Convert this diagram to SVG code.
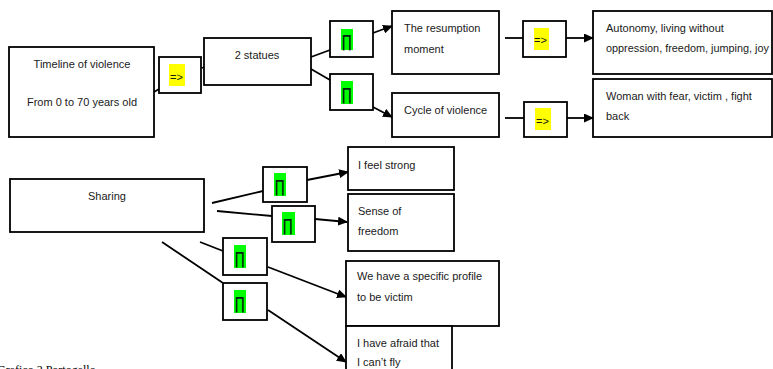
<svg xmlns="http://www.w3.org/2000/svg" width="773" height="369" viewBox="0 0 773 369">
<style>
.box{fill:#fff;stroke:#000;stroke-width:1.8}
.t{font-family:"Liberation Sans",Arial,sans-serif;font-size:11px;fill:#1a1a1a}
.c{text-anchor:middle}
.yel{fill:#ffff00}
.grn{fill:#00ff00}
.sym{font-family:"DejaVu Sans",sans-serif;font-size:17px;fill:#021}
.ln{stroke:#000;stroke-width:1.8;fill:none}
.ar{marker-end:url(#ah)}
.cap{font-family:"Liberation Serif","Times New Roman",serif;font-size:12px;fill:#000}
</style>
<defs>
<marker id="ah" markerUnits="userSpaceOnUse" markerWidth="10" markerHeight="9" refX="9" refY="4.5" orient="auto">
<path d="M0,0 L10,4.5 L0,9 z" fill="#000"/>
</marker>
</defs>
<rect width="773" height="369" fill="#fff"/>

<g id="connectors">
<line class="ln" x1="154" y1="92" x2="159" y2="89"/>
<line class="ln" x1="202" y1="68" x2="217" y2="62"/>
<line class="ln" x1="311" y1="57" x2="330" y2="50"/>
<line class="ln" x1="311" y1="69" x2="330" y2="80"/>
<line class="ln ar" x1="373" y1="33" x2="392" y2="26"/>
<line class="ln ar" x1="373" y1="107" x2="392" y2="117"/>
<line class="ln" x1="505" y1="38" x2="523" y2="38"/>
<line class="ln ar" x1="566" y1="38" x2="593" y2="38"/>
<line class="ln" x1="505" y1="118" x2="524" y2="118"/>
<line class="ln ar" x1="567" y1="118" x2="593" y2="118"/>
<line class="ln" x1="212" y1="203" x2="263" y2="191"/>
<line class="ln" x1="217" y1="211" x2="272" y2="216"/>
<line class="ln" x1="200" y1="242" x2="223" y2="251"/>
<line class="ln" x1="162" y1="242" x2="223" y2="283"/>
<line class="ln ar" x1="307" y1="180" x2="348" y2="172"/>
<line class="ln ar" x1="315" y1="219" x2="347" y2="222"/>
<line class="ln ar" x1="268" y1="267" x2="346" y2="297"/>
<line class="ln ar" x1="268" y1="310" x2="346" y2="362"/>
</g>

<g id="timeline">
<rect class="box" x="9" y="47" width="145" height="90"/>
<text class="t c" x="82" y="68">Timeline of violence</text>
<text class="t c" x="82" y="106">From 0 to 70 years old</text>
</g>

<g id="arrow1">
<rect class="box" x="159" y="57" width="42" height="36"/>
<rect class="yel" x="169" y="64" width="16" height="22"/>
<text class="t" x="170" y="81">=&gt;</text>
</g>

<g id="statues">
<rect class="box" x="204" y="38" width="107" height="47"/>
<text class="t c" x="257" y="59">2 statues</text>
</g>

<g id="sym1">
<rect class="box" x="330" y="21" width="43" height="36"/>
<rect class="grn" x="341" y="29" width="12" height="21"/>
<text class="sym" x="342" y="47" textLength="10" lengthAdjust="spacingAndGlyphs">∏</text>
</g>

<g id="sym2">
<rect class="box" x="330" y="74" width="43" height="36"/>
<rect class="grn" x="341" y="81" width="12" height="23"/>
<text class="sym" x="342" y="100" textLength="10" lengthAdjust="spacingAndGlyphs">∏</text>
</g>

<g id="resumption">
<rect class="box" x="392" y="11" width="107" height="63"/>
<text class="t" x="404" y="32">The resumption</text>
<text class="t" x="404" y="53">moment</text>
</g>

<g id="cycle">
<rect class="box" x="392" y="93" width="107" height="44"/>
<text class="t" x="404" y="114">Cycle of violence</text>
</g>

<g id="arrow2">
<rect class="box" x="523" y="21" width="43" height="36"/>
<rect class="yel" x="534" y="28" width="15" height="22"/>
<text class="t" x="534" y="44">=&gt;</text>
</g>

<g id="arrow3">
<rect class="box" x="524" y="102" width="43" height="35"/>
<rect class="yel" x="535" y="108" width="16" height="22"/>
<text class="t" x="536" y="125">=&gt;</text>
</g>

<g id="autonomy">
<rect class="box" x="593" y="11" width="179" height="63"/>
<text class="t" x="606" y="32">Autonomy, living without</text>
<text class="t" x="606" y="52" textLength="163" lengthAdjust="spacingAndGlyphs">oppression, freedom, jumping, joy</text>
</g>

<g id="woman">
<rect class="box" x="593" y="79" width="179" height="58"/>
<text class="t" x="606" y="100">Woman with fear, victim , fight</text>
<text class="t" x="606" y="120">back</text>
</g>

<g id="sharing">
<rect class="box" x="10" y="179" width="194" height="53"/>
<text class="t c" x="107" y="200">Sharing</text>
</g>

<g id="symA">
<rect class="box" x="263" y="167" width="44" height="35"/>
<rect class="grn" x="274" y="173" width="12" height="23"/>
<text class="sym" x="275" y="192" textLength="10" lengthAdjust="spacingAndGlyphs">∏</text>
</g>

<g id="symB">
<rect class="box" x="272" y="206" width="43" height="36"/>
<rect class="grn" x="282" y="212" width="13" height="23"/>
<text class="sym" x="283" y="231" textLength="10" lengthAdjust="spacingAndGlyphs">∏</text>
</g>

<g id="symC">
<rect class="box" x="223" y="238" width="44" height="37"/>
<rect class="grn" x="234" y="245" width="12" height="23"/>
<text class="sym" x="235" y="264" textLength="10" lengthAdjust="spacingAndGlyphs">∏</text>
</g>

<g id="symD">
<rect class="box" x="223" y="283" width="44" height="37"/>
<rect class="grn" x="234" y="290" width="12" height="23"/>
<text class="sym" x="235" y="309" textLength="10" lengthAdjust="spacingAndGlyphs">∏</text>
</g>

<g id="strong">
<rect class="box" x="348" y="147" width="106" height="43"/>
<text class="t" x="358" y="169">I feel strong</text>
</g>

<g id="freedom">
<rect class="box" x="348" y="194" width="106" height="57"/>
<text class="t" x="358" y="215">Sense of</text>
<text class="t" x="358" y="235">freedom</text>
</g>

<g id="profile">
<rect class="box" x="346" y="261" width="153" height="65"/>
<text class="t" x="357" y="280">We have a specific profile</text>
<text class="t" x="357" y="301">to be victim</text>
</g>

<g id="afraid">
<rect class="box" x="346" y="326" width="106" height="50"/>
<text class="t" x="357" y="347">I have afraid that</text>
<text class="t" x="357" y="366">I can’t fly</text>
</g>

<text class="cap" x="-3" y="374">Grafico 2 Portogallo</text>
</svg>
